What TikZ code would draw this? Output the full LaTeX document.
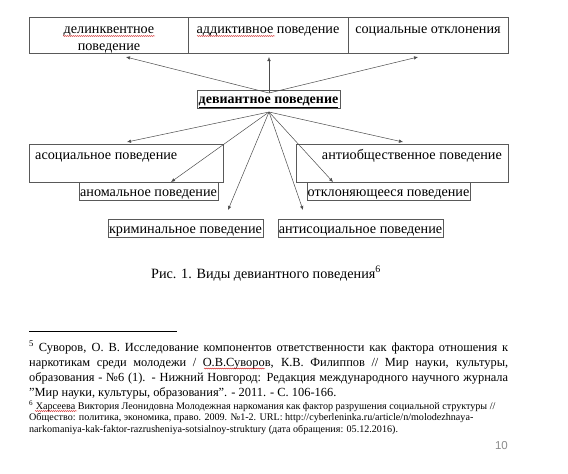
\documentclass[tikz,border=0pt]{standalone}
\usepackage{fontspec}
\setmainfont{Liberation Serif}
\newfontfamily\pgnumfont{Liberation Sans}
\usetikzlibrary{arrows.meta,decorations.pathmorphing}
\begin{document}
\begin{tikzpicture}[x=1pt,y=-1pt,
  box/.style={draw=black!65,line width=0.6pt,anchor=north west,inner sep=0pt,minimum width=#1},
  box/.default=10pt,
  txt/.style={inner sep=0pt,anchor=base,font=\fontsize{14.2}{16}\selectfont},
  arr/.style={draw=black!70,line width=0.5pt,-{Latex[length=4pt,width=3.5pt]}},
  squig/.style={draw=red!80!black,line width=0.35pt,decorate,decoration={snake,segment length=2pt,amplitude=0.5pt}},
  fnA/.style={inner sep=0pt,anchor=base west,font=\fontsize{12.4}{15}\selectfont},
  fnB/.style={inner sep=0pt,anchor=base west,font=\fontsize{10.1}{12}\selectfont}]
\useasboundingbox[fill=white] (0,0) rectangle (568,474);
% top row boxes
\node[box=159pt,minimum height=36pt] (b1) at (29,17) {};
\node[box=160pt,minimum height=36pt] (b2) at (188,17) {};
\node[box=160pt,minimum height=36pt] (b3) at (348,17) {};
\node[txt] (t1a) at (109,33) {делинквентное};
\node[txt] (t1b) at (109,50) {поведение};
\node[txt] (t2) at (268,33) {аддиктивное поведение};
\node[txt] (t3) at (428,33) {социальные отклонения};
% centre
\node[box=143pt,minimum height=18pt] (dev) at (197,90) {};
\node[txt,font=\fontsize{14}{16}\selectfont\bfseries] (devt) at (268.5,103) {\underline{девиантное поведение}};
% lower boxes
\node[box=194pt,minimum height=38pt] (aso) at (29,144) {};
\node[box=212pt,minimum height=38pt] (aob) at (296,144) {};
\node[box=139pt,minimum height=18pt] (ano) at (79,182) {};
\node[box=163pt,minimum height=18pt] (otk) at (307,182) {};
\node[box=155pt,minimum height=18pt] (kri) at (108,219) {};
\node[box=165pt,minimum height=18pt] (ant) at (278,219) {};
\node[txt,anchor=base west] (asot) at (35,159) {асоциальное поведение};
\node[txt,anchor=base east] (aobt) at (502,159) {антиобщественное поведение};
\node[txt] (anot) at (148.5,196) {аномальное поведение};
\node[txt] (otkt) at (388.5,196) {отклоняющееся поведение};
\node[txt] (krit) at (185.5,233) {криминальное поведение};
\node[txt] (antt) at (360.5,233) {антисоциальное поведение};
% connector points
\coordinate (up) at (269,93);
\coordinate (dn) at (269,112);
\coordinate (e1) at (126,57);
\coordinate (e2) at (269,57);
\coordinate (e3) at (418,57);
\coordinate (f1) at (127,142);
\coordinate (f2) at (403,142);
\coordinate (f3) at (171,182);
\coordinate (f4) at (333,182);
\coordinate (f5) at (228,210);
\coordinate (f6) at (303,210);
\foreach \e in {e1,e2,e3} \draw[arr] (up) -- (\e);
\foreach \f in {f1,f2,f3,f4,f5,f6} \draw[arr] (dn) -- (\f);
% caption
\node[txt] (cap) at (266,278) {Рис. 1. Виды девиантного поведения\textsuperscript{6}};
% footnotes
\coordinate (rl) at (29,331);
\coordinate (rr) at (177,331);
\draw[black,line width=0.6pt] (rl) -- (rr);
\node[fnA] (n1) at (29,351) {\makebox[479pt][s]{\textsuperscript{5} Суворов, О. В. Исследование компонентов ответственности как фактора отношения к}};
\node[fnA] (n2) at (29,366) {\makebox[479pt][s]{наркотикам среди молодежи / О.В.Суворов, К.В. Филиппов // Мир науки, культуры,}};
\node[fnA] (n3) at (29,381) {\makebox[479pt][s]{образования - №6 (1). - Нижний Новгород: Редакция международного научного журнала}};
\node[fnA] (n4) at (29,396) {\char34 Мир науки, культуры, образования\char34. - 2011. - С. 106-166.};
\node[fnB] (m1) at (29,409) {\textsuperscript{6} Харсеева Виктория Леонидовна Молодежная наркомания как фактор разрушения социальной структуры //};
\node[fnB] (m2) at (29,420.5) {Общество: политика, экономика, право. 2009. №1-2. URL: http://cyberleninka.ru/article/n/molodezhnaya-};
\node[fnB] (m3) at (29,432) {narkomaniya-kak-faktor-razrusheniya-sotsialnoy-struktury (дата обращения: 05.12.2016).};
\node[inner sep=0pt,anchor=base east,font=\pgnumfont\fontsize{11.5}{13}\selectfont,text=black!45] (pg) at (508,449) {10};
% spell-check squiggles
\draw[squig] (63,36) -- (155,36);
\draw[squig] (197,36) -- (275,36);
\draw[squig] (204,368.5) -- (265,368.5);
\draw[squig] (35,411) -- (77,411);
\end{tikzpicture}
\end{document}
